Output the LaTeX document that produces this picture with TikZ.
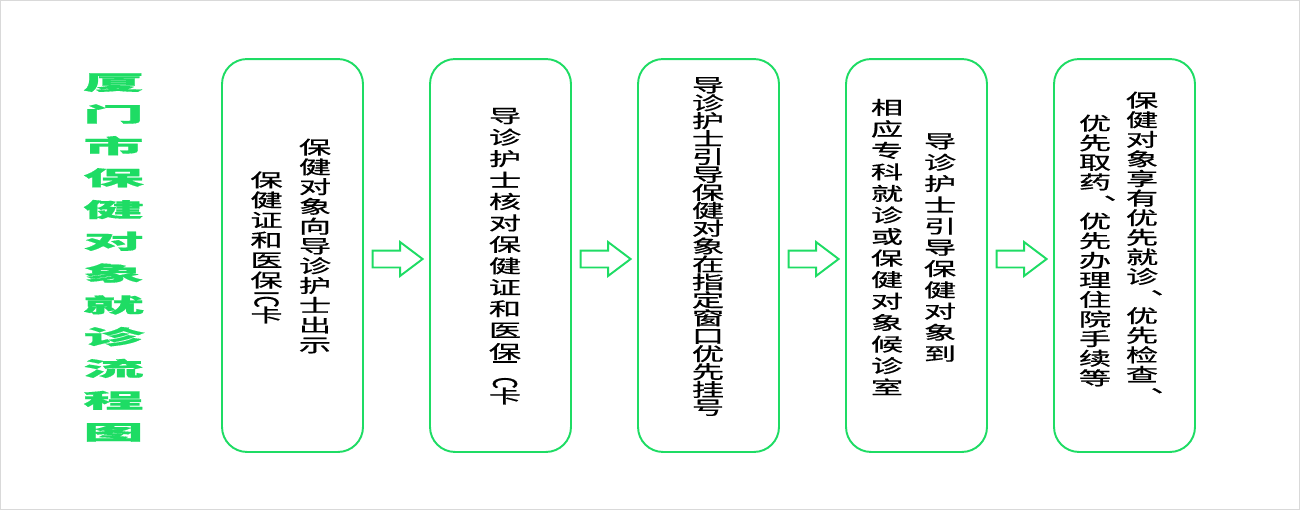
\documentclass[tikz,border=0pt]{standalone}
\usepackage{fontspec}
\newfontfamily\cjk[FakeBold=0.6]{Noto Sans CJK SC}
\usetikzlibrary{shapes.arrows}
\definecolor{leaf}{RGB}{30,220,100}
\tikzset{
  stage/.style={rectangle, rounded corners=0.5cm, draw=leaf, line width=1.1pt,
    minimum width=2.82cm, minimum height=7.86cm},
  flow/.style={single arrow, draw=leaf, fill=white, line width=1.1pt,
    inner xsep=0pt, inner ysep=0.15cm, minimum height=1cm,
    single arrow head extend=0.17cm, single arrow tip angle=74},
  col/.style={font={\cjk\fontsize{10.5pt}{#1pt}\selectfont}, align=center,
    inner sep=0pt, xscale=1.75},
  col/.default=11.25,
  latin/.style={font={\cjk\fontsize{10.5pt}{10.5pt}\selectfont}, inner sep=0pt,
    xscale=1.75, rotate=-90},
  heading/.style={font={\cjk\bfseries\fontsize{11.5pt}{18.1pt}\selectfont}, text=leaf,
    align=center, inner sep=0pt, xscale=3}
}
% comma hung below and to the right of the character before it
\newcommand{\vdun}{\rlap{\hspace{-0.23em}\raisebox{-0.59em}[0pt][0pt]{、}}}
\begin{document}
\begin{tikzpicture}[x=0.02cm, y=-0.02cm]
\useasboundingbox (0,0) rectangle (1300,510);
\draw[black!15, line width=0.6pt] (0.5,0.5) rectangle (1299.5,509.5);

% title
\node[heading] (title) at (113.5,257.5)
  {厦\\门\\市\\保\\健\\对\\象\\就\\诊\\流\\程\\图};

% stages and arrows
\foreach \i in {1,...,5}
  \node[stage] (b\i) at (84.5+208*\i, 255.5) {};
\foreach \i in {1,...,4}
  \node[flow] (f\i) at (184+208*\i, 259) {};

% stage 1
\node[col] (t1a) at (315,246)
  {保\\健\\对\\象\\向\\导\\诊\\护\\士\\出\\示};
\node[col=11.4] (t1b) at (266.5,230)
  {保\\健\\证\\和\\医\\保};
\node[latin] (ic1) at (266.5,299) {IC};
\node[col] (k1) at (266.5,315) {卡};
% stage 2
\node[col=12.2] (t2) at (505,234)
  {导\\诊\\护\\士\\核\\对\\保\\健\\证\\和\\医\\保};
\node[latin] (ic2) at (505,374) {I\hspace{7pt}C};
\node[col] (k2) at (505,396) {卡};
% stage 3
\node[col=10.2] (t3) at (708,246.5)
  {导\\诊\\护\\士\\引\\导\\保\\健\\对\\象\\在\\指\\定\\窗\\口\\优\\先\\挂\\号};
% stage 4
\node[col=12.1] (t4a) at (940,247.5)
  {导\\诊\\护\\士\\引\\导\\保\\健\\对\\象\\到};
\node[col=12.25] (t4b) at (887,247)
  {相\\应\\专\\科\\就\\诊\\或\\保\\健\\对\\象\\候\\诊\\室};
% stage 5
\node[col=11.15] (t5a) at (1142,237)
  {保\\健\\对\\象\\享\\有\\优\\先\\就\\诊\vdun\\[11.15pt]优\\先\\检\\查\vdun};
\node[col=11.15] (t5b) at (1095,250.5)
  {优\\先\\取\\药\vdun\\[11.15pt]优\\先\\办\\理\\住\\院\\手\\续\\等};
\end{tikzpicture}
\end{document}
